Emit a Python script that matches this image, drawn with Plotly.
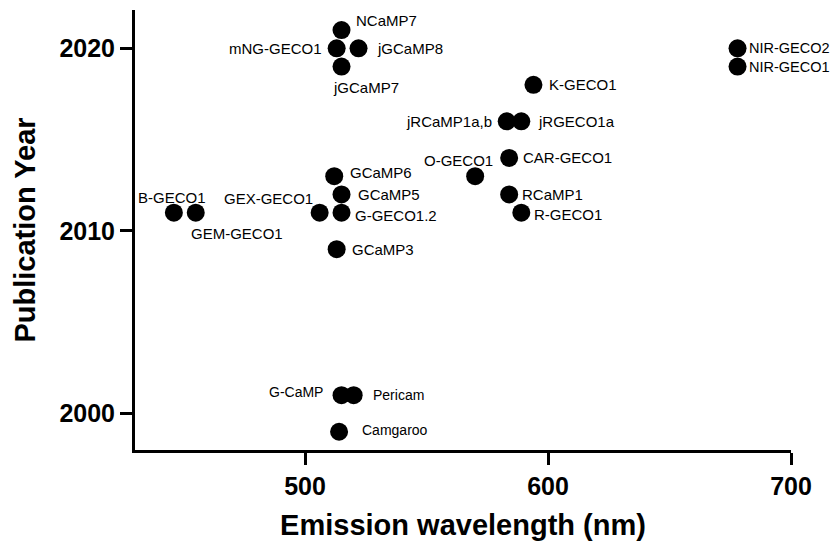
import plotly.graph_objects as go

# ---- data ----
names = ["NCaMP7", "mNG-GECO1", "jGCaMP8", "jGCaMP7", "NIR-GECO2", "NIR-GECO1",
         "K-GECO1", "jRCaMP1a,b", "jRGECO1a", "CAR-GECO1", "O-GECO1", "RCaMP1",
         "R-GECO1", "GCaMP6", "GCaMP5", "G-GECO1.2", "GEX-GECO1", "B-GECO1",
         "GEM-GECO1", "GCaMP3", "G-CaMP", "Pericam", "Camgaroo"]
wavelength = [515, 513, 522, 515, 678, 678,
              594, 583, 589, 584, 570, 584,
              589, 512, 515, 515, 506, 446,
              455, 513, 515, 520, 514]
year = [2021, 2020, 2020, 2019, 2020, 2019,
        2018, 2016, 2016, 2014, 2013, 2012,
        2011, 2013, 2012, 2011, 2011, 2011,
        2011, 2009, 2001, 2001, 1999]

x_ticks = [500, 600, 700]
y_ticks = [2000, 2010, 2020]

# ---- label placement (style): xanchor, xshift, yshift, font size ----
placement = {
    "NCaMP7": ("left", 13, 10, 15),
    "mNG-GECO1": ("right", -14, 0, 15),
    "jGCaMP8": ("left", 17, 0, 15),
    "jGCaMP7": ("center", 24, -21, 15),
    "NIR-GECO2": ("left", 10, 0, 14.5),
    "NIR-GECO1": ("left", 10, 0, 14.5),
    "K-GECO1": ("left", 15, 0, 15),
    "jRCaMP1a,b": ("right", -14, 0, 15),
    "jRGECO1a": ("left", 16, 0, 15),
    "CAR-GECO1": ("left", 13, 0, 15),
    "O-GECO1": ("right", 19, 16, 15),
    "RCaMP1": ("left", 12, 0, 15),
    "R-GECO1": ("left", 12, -2, 15),
    "GCaMP6": ("left", 15, 4, 15),
    "GCaMP5": ("left", 15, 0, 15),
    "G-GECO1.2": ("left", 12, -3, 15),
    "GEX-GECO1": ("right", -6, 14, 15),
    "B-GECO1": ("center", -2, 15, 15),
    "GEM-GECO1": ("left", -6, -21, 15),
    "GCaMP3": ("left", 14, 0, 15),
    "G-CaMP": ("right", -18, 3, 14),
    "Pericam": ("left", 18, 0, 14),
    "Camgaroo": ("left", 22, 2, 14),
}

FONT = "Liberation Sans, Arial, sans-serif"

fig = go.Figure()
fig.add_trace(go.Scatter(
    x=wavelength, y=year, mode="markers",
    marker=dict(size=18, color="black", line=dict(width=0)),
    hovertext=names, showlegend=False,
))

annotations = []
for n, xv, yv in zip(names, wavelength, year):
    xa, xs, ys, fs = placement[n]
    annotations.append(dict(
        x=xv, y=yv, xref="x", yref="y", text=n, showarrow=False,
        xanchor=xa, yanchor="middle", xshift=xs, yshift=ys, borderpad=0,
        font=dict(family=FONT, size=fs, color="black"),
    ))

fig.update_layout(
    width=831, height=548,
    margin=dict(l=135, r=40, t=10, b=98),
    paper_bgcolor="white", plot_bgcolor="white",
    annotations=annotations,
    font=dict(family=FONT, color="black"),
)
fig.update_xaxes(
    range=[430, 700], tickvals=x_ticks, ticktext=[str(v) for v in x_ticks],
    showgrid=False, zeroline=False, showline=True, linewidth=3, linecolor="black",
    ticks="outside", ticklen=12, tickwidth=3, tickcolor="black",
    tickfont=dict(family=FONT, size=25, color="black", weight="bold"),
    title=dict(text="<b>Emission wavelength (nm)</b>", standoff=16,
               font=dict(family=FONT, size=29, color="black")),
)
fig.update_yaxes(
    range=[1998, 2022.1], tickvals=y_ticks, ticktext=[str(v) for v in y_ticks],
    showgrid=False, zeroline=False, showline=True, linewidth=3, linecolor="black",
    ticks="outside", ticklen=12, tickwidth=3, tickcolor="black",
    tickfont=dict(family=FONT, size=25, color="black", weight="bold"),
    title=dict(text="<b>Publication Year</b>", standoff=16,
               font=dict(family=FONT, size=29, color="black")),
)

# remove the default 8px page margin so the figure fills the window exactly
fig.write_html("out.html",
               config={"displayModeBar": False},
               post_script="document.body.style.margin='0';"
                           "document.body.style.overflow='hidden';")
